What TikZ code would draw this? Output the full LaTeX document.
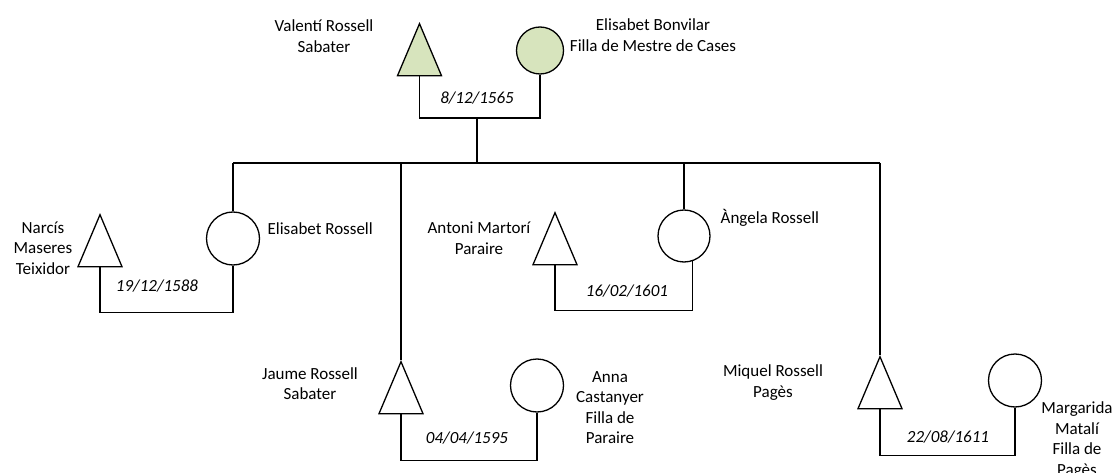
\documentclass[tikz,border=0pt]{standalone}
\usepackage{fontspec}
\setmainfont{Carlito}
\usetikzlibrary{shapes.geometric}
\definecolor{fillgreen}{RGB}{215,228,189}
\begin{document}
\begin{tikzpicture}[x=1pt,y=-1pt,
  line width=1.3pt,
  male/.style={draw, isosceles triangle, isosceles triangle stretches, shape border rotate=90,
    minimum width=44pt, minimum height=52pt, inner sep=0pt, anchor=apex},
  female/.style={draw, circle, inner sep=0pt},
  lbl/.style={font=\fontsize{17}{20.5}\selectfont, align=center, inner sep=0pt},
  datelbl/.style={font=\fontsize{17}{20.5}\selectfont\itshape, inner sep=0pt}]
\useasboundingbox (0,0) rectangle (1119,473);

% generation 1
\node[male, fill=fillgreen] (val) at (419.5,22) {};
\node[female, fill=fillgreen, minimum size=47pt] (bon) at (540,50.5) {};
\coordinate (m0) at (477,118);
\coordinate (barC) at (477,163);
\coordinate (barL) at (233,163);
\coordinate (barR) at (880,163);
\draw (val.lower side) |- (m0) -| (bon.south);
\draw (m0) -- (barC);
\draw (barL) -- (barR);
\node[datelbl] (d0) at (477,98) {8/12/1565};

% generation 2
\node[female, minimum size=53pt] (ros) at (233,238.5) {};
\node[male] (nar) at (100,213) {};
\draw (ros.north |- barL) -- (ros.north);
\draw (nar.lower side) -- ++(0,45) -| (ros.south);
\node[datelbl] (d1) at (157,286) {19/12/1588};

\node[male] (jau) at (401,360) {};
\node[female, minimum size=53pt] (ann) at (537,385.5) {};
\draw (jau.apex |- barL) -- (jau.apex);
\draw (jau.lower side) -- ++(0,46) -| (ann.south);
\node[datelbl] (d2) at (467,438) {04/04/1595};

\node[female, minimum size=52pt] (ang) at (684,236) {};
\node[male] (ant) at (555,211) {};
\draw (ang.north |- barL) -- (ang.north);
\draw (ant.lower side) -- ++(0,45) -| (ang.-72);
\node[datelbl] (d3) at (627,291) {16/02/1601};

\node[male] (miq) at (880,355) {};
\node[female, minimum size=53pt] (mar) at (1015,380.5) {};
\draw (barR) -- (miq.apex);
\draw (miq.lower side) -- ++(0,46) -| (mar.south);
\node[datelbl] (d4) at (948,437) {22/08/1611};

% labels
\node[lbl] (lval) at (324,36) {Valentí Rossell\\Sabater};
\node[lbl] (lbon) at (653,35) {Elisabet Bonvilar\\Filla de Mestre de Cases};
\node[lbl] (lnar) at (43,248) {Narcís\\Maseres\\Teixidor};
\node[lbl, anchor=west] (lros) at (267,229) {Elisabet Rossell};
\node[lbl] (lant) at (479,238) {Antoni Martorí\\Paraire};
\node[lbl, anchor=west] (lang) at (720,218) {Àngela Rossell};
\node[lbl] (ljau) at (310,383.5) {Jaume Rossell\\Sabater};
\node[lbl] (lann) at (610,407.5) {Anna\\Castanyer\\Filla de\\Paraire};
\node[lbl] (lmiq) at (773,382.5) {Miquel Rossell\\Pagès};
\node[lbl] (lmar) at (1077,440) {Margarida\\Matalí\\Filla de\\Pagès};
\end{tikzpicture}
\end{document}
